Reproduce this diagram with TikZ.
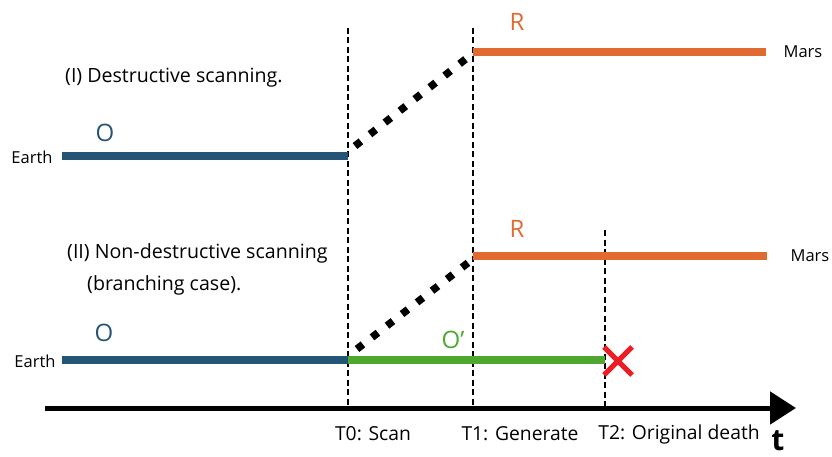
\documentclass[tikz,border=0pt]{standalone}
\usepackage{fontspec}
\setmainfont{Open Sans}
\usetikzlibrary{arrows.meta}
\definecolor{lineblue}{HTML}{245476}
\definecolor{lineorange}{HTML}{E06A30}
\definecolor{linegreen}{HTML}{4EA72E}
\definecolor{crossred}{HTML}{EE1C25}
\tikzset{
  timeline/.style={line width=8.5pt},
  marker/.style={black, line width=1.3pt, dash pattern=on 6pt off 3.5pt},
  jump/.style={black, line width=7.5pt, dash pattern=on 7.5pt off 11.5pt},
  place/.style={font=\fontsize{16.5}{18}\selectfont, inner sep=0pt},
  tag/.style={font=\fontsize{24}{26}\selectfont, inner sep=0pt},
  caption/.style={font=\fontsize{19.6}{22}\selectfont, inner sep=0pt, anchor=west},
  ticklabel/.style={font=\fontsize{19.3}{22}\selectfont, inner sep=0pt},
}
\begin{document}
\begin{tikzpicture}[x=1pt, y=-1pt]
  \useasboundingbox (0,0) rectangle (832,457);

  % time markers
  \coordinate (t0a) at (348,28);  \coordinate (t0b) at (348,409);
  \coordinate (t1a) at (473,28);  \coordinate (t1b) at (473,409);
  \coordinate (t2a) at (605,230); \coordinate (t2b) at (605,409);

  % time axis
  \coordinate (ax0) at (45,408);
  \coordinate (ax1) at (796,408);
  \draw[line width=5pt, -{Triangle[length=26pt, width=32pt]}] (ax0) -- (ax1);

  \draw[marker] (t0a) -- (t0b);
  \draw[marker] (t1a) -- (t1b);
  \draw[marker] (t2a) -- (t2b);

  % (I) destructive scanning
  \coordinate (e1) at (62,156);  \coordinate (s1) at (348,156);
  \coordinate (g1) at (473,52);  \coordinate (m1) at (766,52);
  \draw[timeline, lineblue] (e1) -- (s1);
  \draw[timeline, lineorange] (g1) -- (m1);
  \coordinate (j1a) at (355,146); \coordinate (j1b) at (467,58);
  \draw[jump] (j1a) -- (j1b);

  \node[caption] (cap1) at (65,78) {(I) Destructive scanning.};
  \node[place] (earth1) at (32,157) {Earth};
  \node[place] (mars1) at (803,52) {Mars};
  \node[tag, lineblue] (o1) at (105,133) {O};
  \node[tag, lineorange] (r1) at (517,22) {R};

  % (II) non-destructive scanning
  \coordinate (e2) at (62,360);  \coordinate (s2) at (348,360);
  \coordinate (d2) at (605,360);
  \coordinate (g2) at (473,256); \coordinate (m2) at (767,256);
  \draw[timeline, lineblue] (e2) -- (s2);
  \draw[timeline, linegreen] (s2) -- (d2);
  \draw[timeline, lineorange] (g2) -- (m2);
  \coordinate (j2a) at (357,349); \coordinate (j2b) at (469,262);
  \draw[jump] (j2a) -- (j2b);

  \node[caption] (cap2) at (67,253) {(II) Non-destructive scanning};
  \node[caption] (cap3) at (87,285) {(branching case).};
  \node[place] (earth2) at (35,361) {Earth};
  \node[place] (mars2) at (810,256) {Mars};
  \node[tag, lineblue] (o2) at (104,333) {O};
  \node[tag, linegreen] (o3) at (453,340) {O’};
  \node[tag, lineorange] (r2) at (517,229) {R};

  % death of the original
  \coordinate (xa) at (604,347); \coordinate (xb) at (632,375);
  \coordinate (xc) at (604,375); \coordinate (xd) at (632,347);
  \draw[crossred, line width=5pt] (xa) -- (xb) (xc) -- (xd);

  % axis labels
  \node[ticklabel] (l0) at (373,434) {T0: Scan};
  \node[ticklabel] (l1) at (520,434) {T1: Generate};
  \node[ticklabel] (l2) at (679,434) {T2: Original death};
  \node[font=\fontsize{30}{32}\selectfont\bfseries, inner sep=0pt] (tl) at (778,441) {t};
\end{tikzpicture}
\end{document}
